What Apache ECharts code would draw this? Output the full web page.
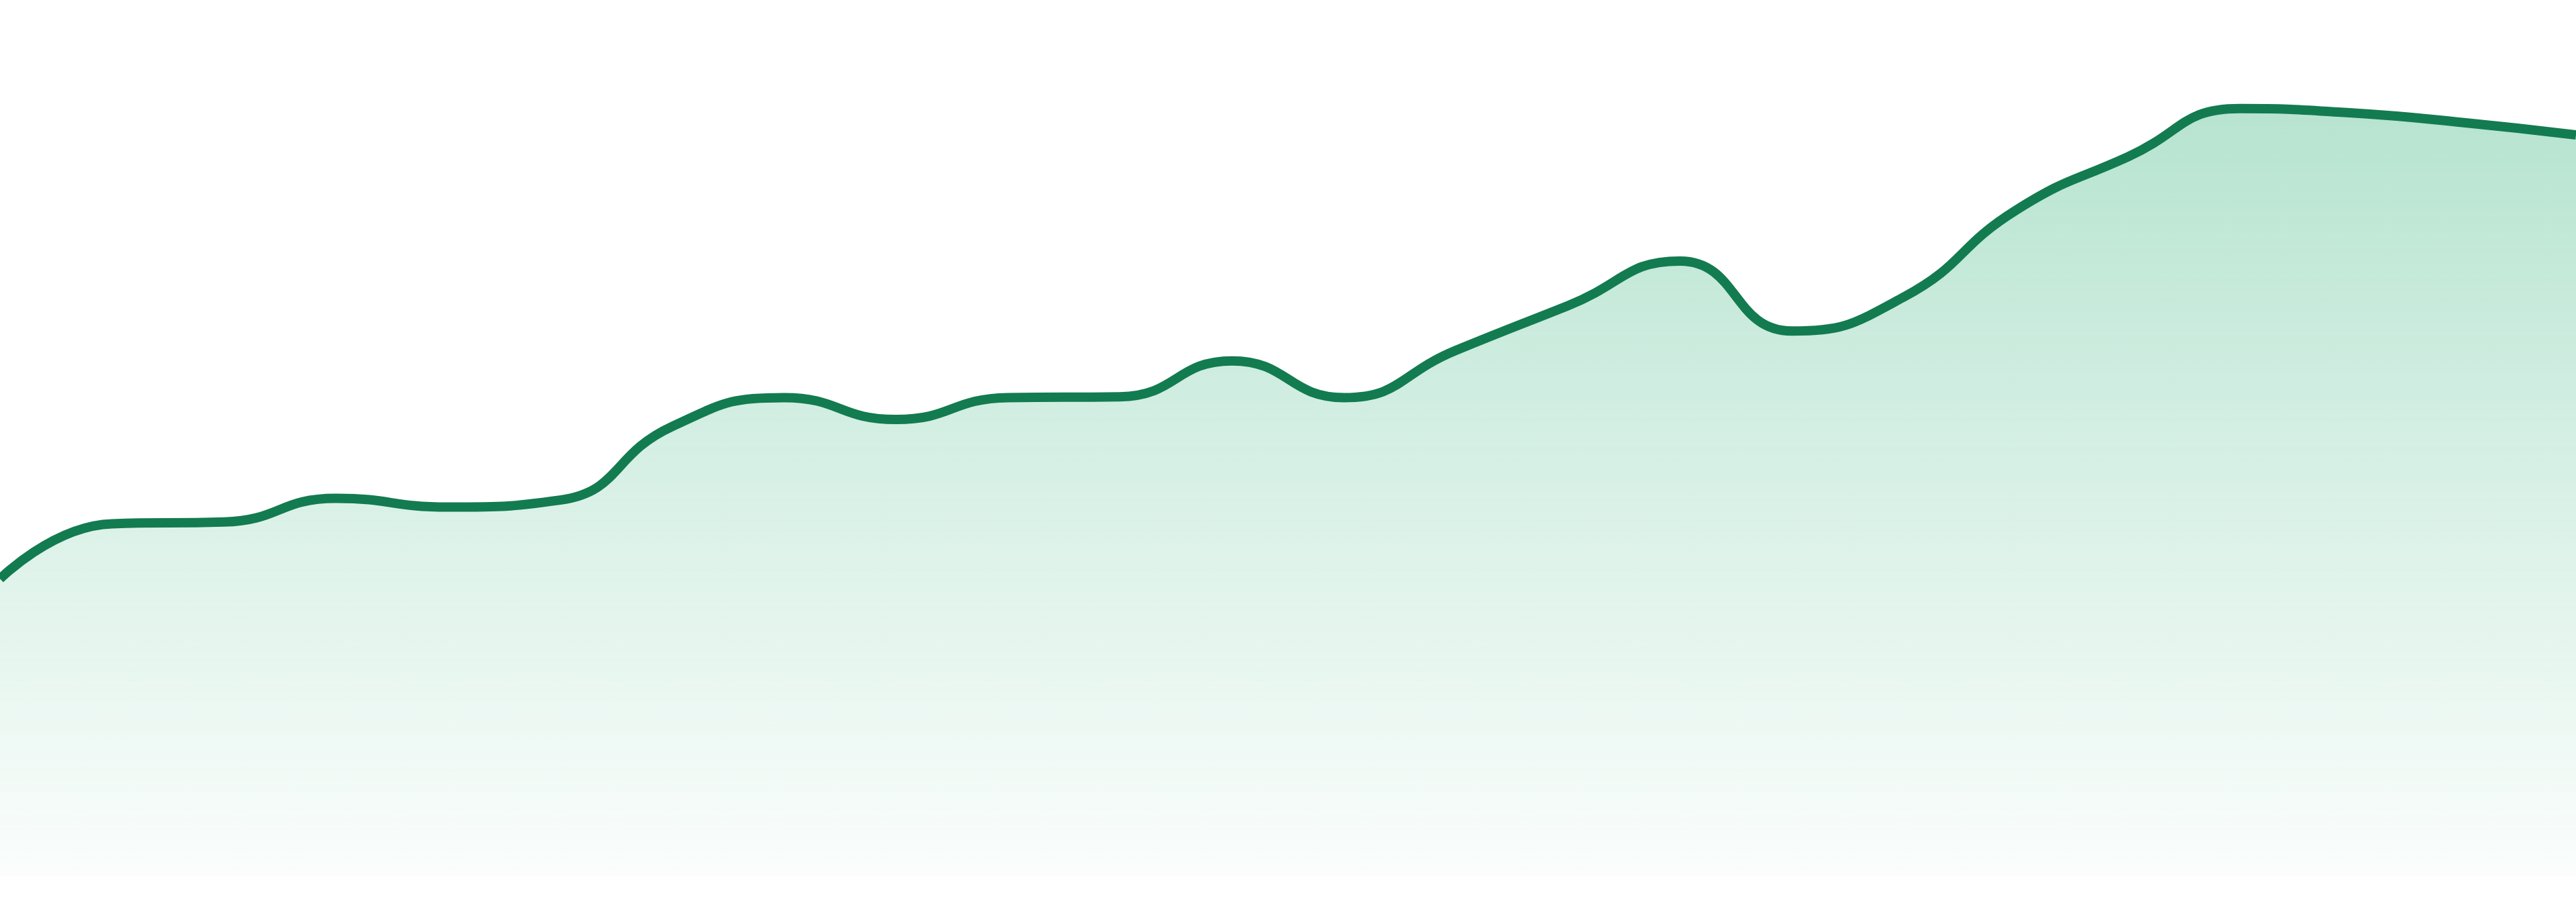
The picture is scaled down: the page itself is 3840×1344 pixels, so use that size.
<!DOCTYPE html>
<html>
<head>
<meta charset="utf-8">
<title>trend</title>
<script src="https://cdn.jsdelivr.net/npm/echarts@6.0.0/dist/echarts.min.js"></script>
<style>
    html, body { margin: 0; padding: 0; background: #fff; }
    #echart-trend { width: 3840px; height: 1344px; }
</style>
</head>
<body>
<div id="echart-trend"></div>
<script>
// categories (hidden on the chart)
var hours = ['00:00', '01:00', '02:00', '03:00', '04:00', '05:00', '06:00', '07:00',
    '08:00', '09:00', '10:00', '11:00', '12:00', '13:00', '14:00', '15:00',
    '16:00', '17:00', '18:00', '19:00', '20:00', '21:00', '22:00', '23:00'];
// series values
var values = [33.9, 40.2, 40.4, 43.1, 42.1, 42.9, 51.3, 54.6,
    52.1, 54.6, 54.7, 58.8, 54.6, 60.0, 65.1, 70.2,
    62.2, 66.1, 76.0, 82.1, 87.6, 87.1, 86.0, 84.6];
var yMin = 0, yMax = 100;

(function () {
    var chart = echarts.init(document.getElementById('echart-trend'));
    var option = {
        animation: false,
        grid: {left: 0, right: 0, top: 0, bottom: 39},
        xAxis: {
            type: 'category',
            data: hours,
            boundaryGap: false,
            show: false
        },
        yAxis: {
            type: 'value',
            min: yMin,
            max: yMax,
            show: false,
            splitLine: {show: false}
        },
        series: [{
            type: 'line',
            data: values,
            smooth: true,
            symbol: 'none',
            lineStyle: {color: '#137b50', width: 14},
            // opacity 1, otherwise echarts dims the area to 0.7
            areaStyle: {
                opacity: 1,
                color: new echarts.graphic.LinearGradient(0, 0, 0, 1, [
                    {offset: 0, color: 'rgba(30,170,110,0.32)'},
                    {offset: 1, color: 'rgba(30,170,110,0.02)'}
                ])
            }
        }]
    };
    chart.setOption(option);
})();
</script>
</body>
</html>
